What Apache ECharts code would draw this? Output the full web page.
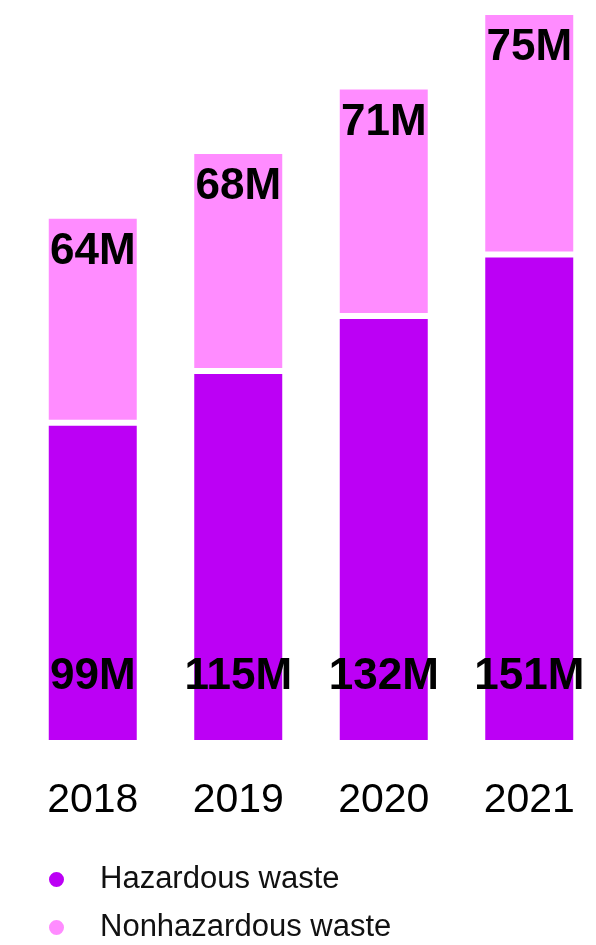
<!DOCTYPE html>
<html>
<head>
<meta charset="utf-8">
<script src="https://cdn.jsdelivr.net/npm/echarts@6/dist/echarts.min.js"></script>
<style>
html,body{margin:0;padding:0;background:#fff;}
#chart{width:596px;height:945px;}
</style>
</head>
<body>
<div id="chart"></div>
<script>
const years = ['2018', '2019', '2020', '2021'];
const hazardous = [99, 115, 132, 151];
const nonhazardous = [64, 68, 71, 75];
const seriesNames = ['Hazardous waste', 'Nonhazardous waste'];
const colors = ['#bc00f5', '#ff8cff'];

const chart = echarts.init(document.getElementById('chart'));
const labelFont = {
  show: true,
  color: '#000',
  fontFamily: 'Liberation Sans, Arial, sans-serif',
  fontWeight: 'bold',
  fontSize: 44,
  overflow: 'none',
  formatter: p => p.value + 'M'
};
const legendBase = {
  left: 42,
  icon: 'circle',
  itemWidth: 17,
  itemHeight: 17,
  textStyle: {
    color: '#111',
    fontFamily: 'Liberation Sans, Arial, sans-serif',
    fontSize: 31,
    padding: [0, 0, 0, 30]
  }
};
chart.setOption({
  animation: false,
  backgroundColor: '#fff',
  grid: { left: 20, width: 582, top: 12, bottom: 202, outerBoundsMode: 'none', containLabel: false },
  xAxis: {
    type: 'category',
    data: years,
    axisLine: { show: false },
    axisTick: { show: false },
    axisLabel: {
      color: '#000',
      fontFamily: 'Liberation Sans, Arial, sans-serif',
      fontSize: 41,
      margin: 37
    }
  },
  yAxis: {
    type: 'value',
    min: 0,
    max: 226,
    show: false,
    splitLine: { show: false }
  },
  legend: [
    Object.assign({}, legendBase, { top: 859, data: [seriesNames[0]] }),
    Object.assign({}, legendBase, { top: 907, data: [seriesNames[1]] })
  ],
  series: [
    {
      name: seriesNames[0],
      type: 'bar',
      stack: 'total',
      data: hazardous,
      barWidth: 94,
      itemStyle: { color: colors[0], borderColor: '#fff', borderWidth: 3 },
      label: Object.assign({}, labelFont, { position: 'insideBottom', distance: 44 })
    },
    {
      name: seriesNames[1],
      type: 'bar',
      stack: 'total',
      data: nonhazardous,
      barWidth: 94,
      itemStyle: { color: colors[1], borderColor: '#fff', borderWidth: 3 },
      label: Object.assign({}, labelFont, { position: 'insideTop', distance: 14 })
    }
  ]
});
</script>
</body>
</html>
